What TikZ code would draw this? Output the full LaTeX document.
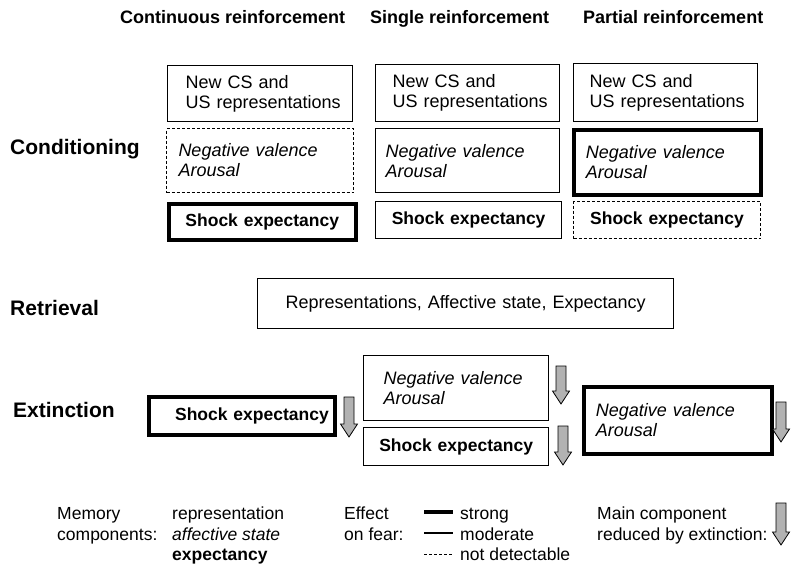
\documentclass[tikz,border=0pt]{standalone}
\usepackage{fontspec}
\setmainfont{Liberation Sans}
\hyphenpenalty=10000
\exhyphenpenalty=10000
\tikzset{
  fn/.style={font=\fontsize{18}{20}\selectfont},
  fi/.style={font=\fontsize{18}{20}\selectfont\itshape},
  fb/.style={font=\fontsize{17.5}{20}\selectfont\bfseries},
  hdr/.style={anchor=base west, inner sep=0pt, font=\fontsize{18}{20}\selectfont\bfseries},
  phase/.style={anchor=base west, inner sep=0pt, font=\fontsize{21}{24}\selectfont\bfseries},
  leg/.style={anchor=base west, inner sep=0pt, font=\fontsize{17.5}{20}\selectfont},
  bx/.style={draw, line width=1.3pt, anchor=north west, inner ysep=0pt, align=left},
  thickbx/.style={bx, line width=3.6pt},
  dashbx/.style={bx, line width=1pt, dash pattern=on 3pt off 2pt},
  arrowst/.style={draw=black, line width=0.8pt, fill=gray!60},
  pics/exarrow/.style={code={
    \draw[arrowst] (-5,0) -- (5,0) -- (5,#1-13) -- (8.5,#1-13) -- (0,#1)
      -- (-8.5,#1-13) -- (-5,#1-13) -- cycle;}},
}
\begin{document}
\begin{tikzpicture}[x=1pt,y=-1pt]
\useasboundingbox (0,0) rectangle (800,573);

% column headers
\node[hdr] (h1) at (120,23) {Continuous reinforcement};
\node[hdr] (h2) at (370,23) {Single reinforcement};
\node[hdr] (h3) at (583,23) {Partial reinforcement};

% phase labels
\node[phase] (lc) at (10,154) {Conditioning};
\node[phase] (lr) at (10,315) {Retrieval};
\node[phase] (le) at (13,417) {Extinction};

% conditioning, continuous
\node[bx, fn, minimum height=56pt, text width=149pt, inner xsep=18pt] (c1r) at (167,65) {New CS and\\US~representations};
\node[dashbx, fi, minimum height=64pt, text width=163pt, inner xsep=12pt] (c1a) at (166,128) {Negative valence\\Arousal};
\node[thickbx, fb, minimum height=36pt, text width=175pt, inner xsep=6pt, align=center] (c1e) at (167,202) {Shock expectancy};

% conditioning, single
\node[bx, fn, minimum height=57pt, text width=150pt, inner xsep=17pt] (c2r) at (375,64) {New CS and\\US~representations};
\node[bx, fi, minimum height=64pt, text width=164pt, inner xsep=10pt] (c2a) at (375,128) {Negative valence\\Arousal};
\node[bx, fb, minimum height=37pt, text width=174pt, inner xsep=6pt, align=center] (c2e) at (375,201) {Shock expectancy};

% conditioning, partial
\node[bx, fn, minimum height=58pt, text width=152pt, inner xsep=16pt] (c3r) at (573,63) {New CS and\\US~representations};
\node[thickbx, fi, minimum height=65pt, text width=163pt, inner xsep=12pt] (c3a) at (572,128) {Negative valence\\Arousal};
\node[dashbx, fb, minimum height=37pt, text width=175pt, inner xsep=6pt, align=center] (c3e) at (573,201) {Shock expectancy};

% retrieval
\node[bx, fn, minimum height=50pt, text width=404pt, inner xsep=6pt, align=center] (rt) at (257,278) {Representations, Affective state, Expectancy};

% extinction
\node[thickbx, fb, minimum height=38pt, text width=174pt, inner xsep=6pt, align=right] (e1) at (147,395) {Shock expectancy};
\node[bx, fi, minimum height=65pt, text width=145pt, inner xsep=20pt] (e2a) at (363,355) {Negative valence\\Arousal};
\node[bx, fb, minimum height=38pt, text width=173pt, inner xsep=6pt, align=center] (e2e) at (363,427) {Shock expectancy};
\node[thickbx, fi, minimum height=67pt, text width=164pt, inner xsep=12pt] (e3a) at (582,385) {Negative valence\\Arousal};

% reduction arrows
\pic at (349,397) {exarrow=40};
\pic at (561,366) {exarrow=38};
\pic at (563,426) {exarrow=39};
\pic at (781,402) {exarrow=40};

% legend
\node[leg] (m1) at (57,519) {Memory};
\node[leg] (m2) at (57,540) {components:};
\node[leg] (m3) at (172,519) {representation};
\node[leg, font=\fontsize{17.5}{20}\selectfont\itshape] (m4) at (172,540) {affective state};
\node[leg, font=\fontsize{17.5}{20}\selectfont\bfseries] (m5) at (172,560) {expectancy};
\node[leg] (f1) at (344,519) {Effect};
\node[leg] (f2) at (344,540) {on fear:};
\coordinate (s1a) at (424,512); \coordinate (s1b) at (453,512);
\coordinate (s2a) at (424,533); \coordinate (s2b) at (453,533);
\coordinate (s3a) at (424,554); \coordinate (s3b) at (453,554);
\draw[line width=3.6pt] (s1a) -- (s1b);
\draw[line width=1.3pt] (s2a) -- (s2b);
\draw[line width=1pt, dash pattern=on 3pt off 2pt] (s3a) -- (s3b);
\node[leg] (f3) at (460,519) {strong};
\node[leg] (f4) at (460,540) {moderate};
\node[leg] (f5) at (460,560) {not detectable};
\node[leg] (k1) at (597,519) {Main component};
\node[leg] (k2) at (597,540) {reduced by extinction:};
\pic at (781,503) {exarrow=42};
\end{tikzpicture}
\end{document}
